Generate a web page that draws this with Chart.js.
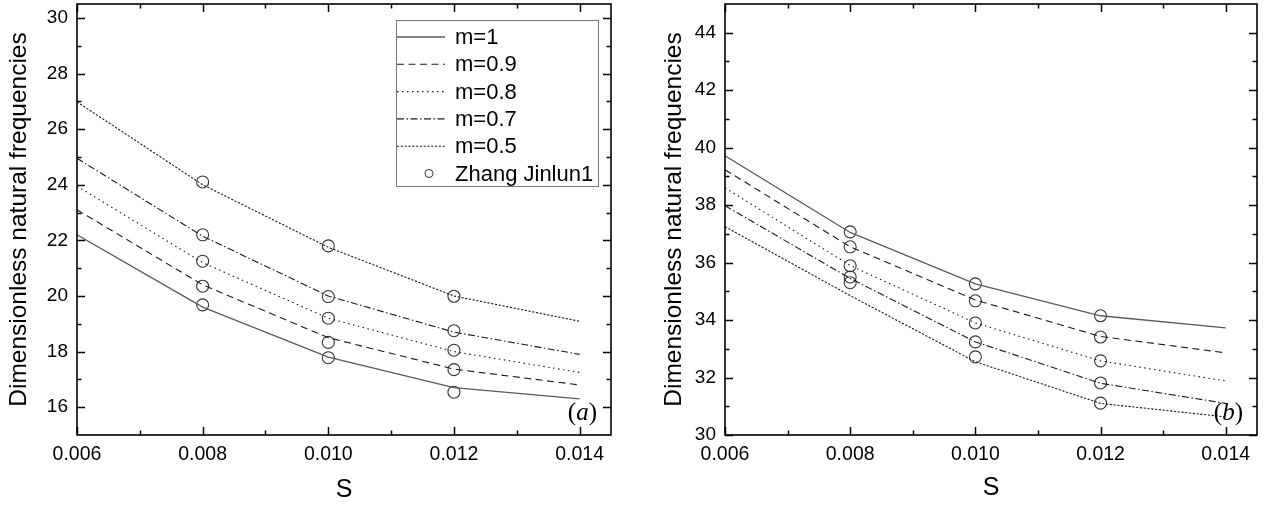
<!DOCTYPE html>
<html>
<head>
<meta charset="utf-8">
<script src="https://cdn.jsdelivr.net/npm/chart.js@4.4.1/dist/chart.umd.min.js"></script>
<style>
  html, body { margin: 0; padding: 0; background: #fff; }
  #wrap { display: flex; width: 1265px; height: 506px; }
  canvas { display: block; }
</style>
</head>
<body>
<div id="wrap">
  <canvas id="chartA" width="632" height="506"></canvas>
  <canvas id="chartB" width="633" height="506"></canvas>
</div>
<script>
// --- data ---
const sValues = [0.006, 0.008, 0.010, 0.012, 0.014];
const xTickValues = [0.006, 0.008, 0.010, 0.012, 0.014];
const xTickLabels = ['0.006', '0.008', '0.010', '0.012', '0.014'];
const seriesNames = ['m=1', 'm=0.9', 'm=0.8', 'm=0.7', 'm=0.5'];

// (a)
const aM1  = [22.2, 19.6, 17.8, 16.7, 16.3];
const aM09 = [23.1, 20.4, 18.5, 17.37, 16.8];
const aM08 = [23.95, 21.2, 19.2, 18.0, 17.25];
const aM07 = [24.95, 22.15, 20.0, 18.7, 17.9];
const aM05 = [26.98, 24.0, 21.75, 20.0, 19.09];
const zhangS = [0.008, 0.010, 0.012];
const zhangA1  = [19.68, 17.78, 16.54];
const zhangA09 = [20.35, 18.33, 17.35];
const zhangA08 = [21.25, 19.2, 18.05];
const zhangA07 = [22.2, 19.98, 18.75];
const zhangA05 = [24.1, 21.8, 19.99];
const aYTicks = [16, 18, 20, 22, 24, 26, 28, 30];

// (b)
const bM1  = [39.72, 37.05, 35.26, 34.15, 33.73];
const bM09 = [39.23, 36.55, 34.7, 33.43, 32.86];
const bM08 = [38.6, 35.9, 33.9, 32.58, 31.88];
const bM07 = [37.98, 35.45, 33.24, 31.8, 31.1];
const bM05 = [37.25, 34.85, 32.55, 31.1, 30.63];
const zhangB1  = [37.07, 35.26, 34.15];
const zhangB09 = [36.55, 34.67, 33.41];
const zhangB08 = [35.89, 33.9, 32.58];
const zhangB07 = [35.5, 33.24, 31.81];
const zhangB05 = [35.3, 32.72, 31.11];
const bYTicks = [30, 32, 34, 36, 38, 40, 42, 44];

// line styles per series
const lineColors = ['#5a5a5a', '#1a1a1a', '#1a1a1a', '#1a1a1a', '#1a1a1a'];
const lineDashes = [[], [7, 4.5], [1.5, 3.5], [7, 2.5, 1.5, 2.5], [2.2, 1.6]];

const FONT = '"Liberation Sans", Arial, sans-serif';

function pts(xs, ys) {
    return xs.map((x, i) => ({ x: x, y: ys[i] }));
}

function buildDatasets(lines, zhang) {
    const sets = lines.map((ys, i) => ({
        type: 'line',
        label: seriesNames[i],
        data: pts(sValues, ys),
        borderColor: lineColors[i],
        borderWidth: i === 0 ? 1.3 : 1.1,
        borderDash: lineDashes[i],
        pointRadius: 0,
        tension: 0,
        fill: false
    }));
    const circles = [];
    zhang.forEach(ys => circles.push(...pts(zhangS, ys)));
    sets.push({
        type: 'scatter',
        label: 'Zhang Jinlun1',
        data: circles,
        borderColor: '#333',
        backgroundColor: 'rgba(0,0,0,0)',
        borderWidth: 1.1,
        pointRadius: 6,
        pointStyle: 'circle',
        showLine: false
    });
    return sets;
}

// box, inward ticks on four sides, panel tag and in-plot legend
const framePlugin = {
    id: 'frame',
    afterDatasetsDraw(chart, args, opts) {
        const { ctx, chartArea: a } = chart;
        ctx.save();

        // legend box
        if (opts.legend) {
            const bx = a.right - 215, by = a.top + 16, bw = 202, bh = 166;
            ctx.fillStyle = '#fff';
            ctx.fillRect(bx, by, bw, bh);
            ctx.strokeStyle = '#777';
            ctx.lineWidth = 1;
            ctx.strokeRect(bx + 0.5, by + 0.5, bw, bh);
            ctx.font = '22px ' + FONT;
            ctx.textBaseline = 'middle';
            ctx.fillStyle = '#000';
            chart.data.datasets.forEach((ds, i) => {
                const ry = by + 17 + i * 27.3;
                if (ds.type === 'line') {
                    ctx.strokeStyle = ds.borderColor;
                    ctx.lineWidth = ds.borderWidth;
                    ctx.setLineDash(ds.borderDash);
                    ctx.beginPath();
                    ctx.moveTo(bx + 1, ry);
                    ctx.lineTo(bx + 49, ry);
                    ctx.stroke();
                    ctx.setLineDash([]);
                } else {
                    ctx.strokeStyle = ds.borderColor;
                    ctx.lineWidth = 1;
                    ctx.beginPath();
                    ctx.arc(bx + 33, ry, 4, 0, Math.PI * 2);
                    ctx.stroke();
                }
                ctx.fillText(ds.label, bx + 59, ry + 1);
            });
        }
        ctx.restore();
    },
    afterDraw(chart, args, opts) {
        const { ctx, chartArea: a, scales: { x, y } } = chart;
        ctx.save();
        ctx.strokeStyle = '#000';
        ctx.lineWidth = 1.6;
        ctx.setLineDash([]);
        ctx.strokeRect(a.left, a.top, a.right - a.left, a.bottom - a.top);

        const major = 8, minor = 4.5;
        const xs = opts.xTicks, ys = opts.yTicks;
        const xMinor = xs.slice(1).map((v, i) => (v + xs[i]) / 2);
        const yMinor = ys.slice(1).map((v, i) => (v + ys[i]) / 2);
        ctx.lineWidth = 1.5;
        ctx.beginPath();
        const vTick = (v, len) => {
            const px = Math.round(x.getPixelForValue(v)) + 0.5;
            ctx.moveTo(px, a.bottom); ctx.lineTo(px, a.bottom - len);
            ctx.moveTo(px, a.top); ctx.lineTo(px, a.top + len);
        };
        const hTick = (v, len) => {
            const py = Math.round(y.getPixelForValue(v)) + 0.5;
            ctx.moveTo(a.left, py); ctx.lineTo(a.left + len, py);
            ctx.moveTo(a.right, py); ctx.lineTo(a.right - len, py);
        };
        xs.forEach(v => vTick(v, major));
        xMinor.forEach(v => vTick(v, minor));
        ys.forEach(v => hTick(v, major));
        yMinor.forEach(v => hTick(v, minor));
        ctx.stroke();

        // panel tag like (a)
        const tx = a.right - 14, ty = a.bottom - 22;
        ctx.fillStyle = '#000';
        ctx.textBaseline = 'middle';
        ctx.textAlign = 'right';
        ctx.font = '25px "Liberation Serif", serif';
        ctx.fillText(')', tx, ty);
        const wClose = ctx.measureText(')').width;
        ctx.font = 'italic 25px "Liberation Serif", serif';
        ctx.fillText(opts.tag, tx - wClose, ty);
        const wTag = ctx.measureText(opts.tag).width;
        ctx.font = '25px "Liberation Serif", serif';
        ctx.fillText('(', tx - wClose - wTag, ty);
        ctx.restore();
    }
};

function noPad(s) {
    s.paddingTop = 0;
    s.paddingBottom = 0;
    s.paddingLeft = 0;
    s.paddingRight = 0;
}

function makeChart(id, lines, zhang, yMin, yMax, yTicks, cfg) {
    return new Chart(document.getElementById(id), {
        data: { datasets: buildDatasets(lines, zhang) },
        options: {
            responsive: false,
            animation: false,
            devicePixelRatio: 1,
            layout: { autoPadding: false, padding: { left: 0, right: cfg.padRight, top: 4, bottom: 0 } },
            plugins: {
                legend: { display: false },
                tooltip: { enabled: false },
                frame: { legend: cfg.legend, tag: cfg.tag, xTicks: xTickValues, yTicks: yTicks }
            },
            scales: {
                x: {
                    type: 'linear',
                    min: 0.006,
                    max: 0.0145,
                    afterBuildTicks: s => { s.ticks = xTickValues.map(v => ({ value: v })); },
                    afterFit: s => { s.height = 71; noPad(s); },
                    grid: { display: false, drawTicks: false },
                    border: { display: false },
                    ticks: {
                        color: '#000',
                        padding: 8,
                        maxRotation: 0,
                        font: { family: FONT, size: 19.5 },
                        callback: (v, i) => xTickLabels[i]
                    },
                    title: {
                        display: true,
                        text: 'S',
                        color: '#000',
                        font: { family: FONT, size: 25 },
                        padding: { top: 0, bottom: cfg.sPad }
                    }
                },
                y: {
                    type: 'linear',
                    min: yMin,
                    max: yMax,
                    afterBuildTicks: s => { s.ticks = yTicks.map(v => ({ value: v })); },
                    afterFit: s => { s.width = cfg.yWidth; noPad(s); },
                    grid: { display: false, drawTicks: false },
                    border: { display: false },
                    ticks: {
                        color: '#000',
                        padding: 9,
                        font: { family: FONT, size: 19 },
                        callback: v => String(v)
                    },
                    title: {
                        display: true,
                        text: 'Dimensionless natural frequencies',
                        color: '#000',
                        font: { family: FONT, size: 24.5 },
                        padding: { top: cfg.titlePad, bottom: 0 }
                    }
                }
            }
        },
        plugins: [framePlugin]
    });
}

makeChart('chartA', [aM1, aM09, aM08, aM07, aM05],
    [zhangA1, zhangA09, zhangA08, zhangA07, zhangA05],
    15, 30.5, aYTicks,
    { padRight: 21, yWidth: 77, titlePad: 4.3, sPad: 0.5, legend: true, tag: 'a' });

makeChart('chartB', [bM1, bM09, bM08, bM07, bM05],
    [zhangB1, zhangB09, zhangB08, zhangB07, zhangB05],
    30, 45, bYTicks,
    { padRight: 8, yWidth: 93, titlePad: 27.3, sPad: 3, legend: false, tag: 'b' });
</script>
</body>
</html>
